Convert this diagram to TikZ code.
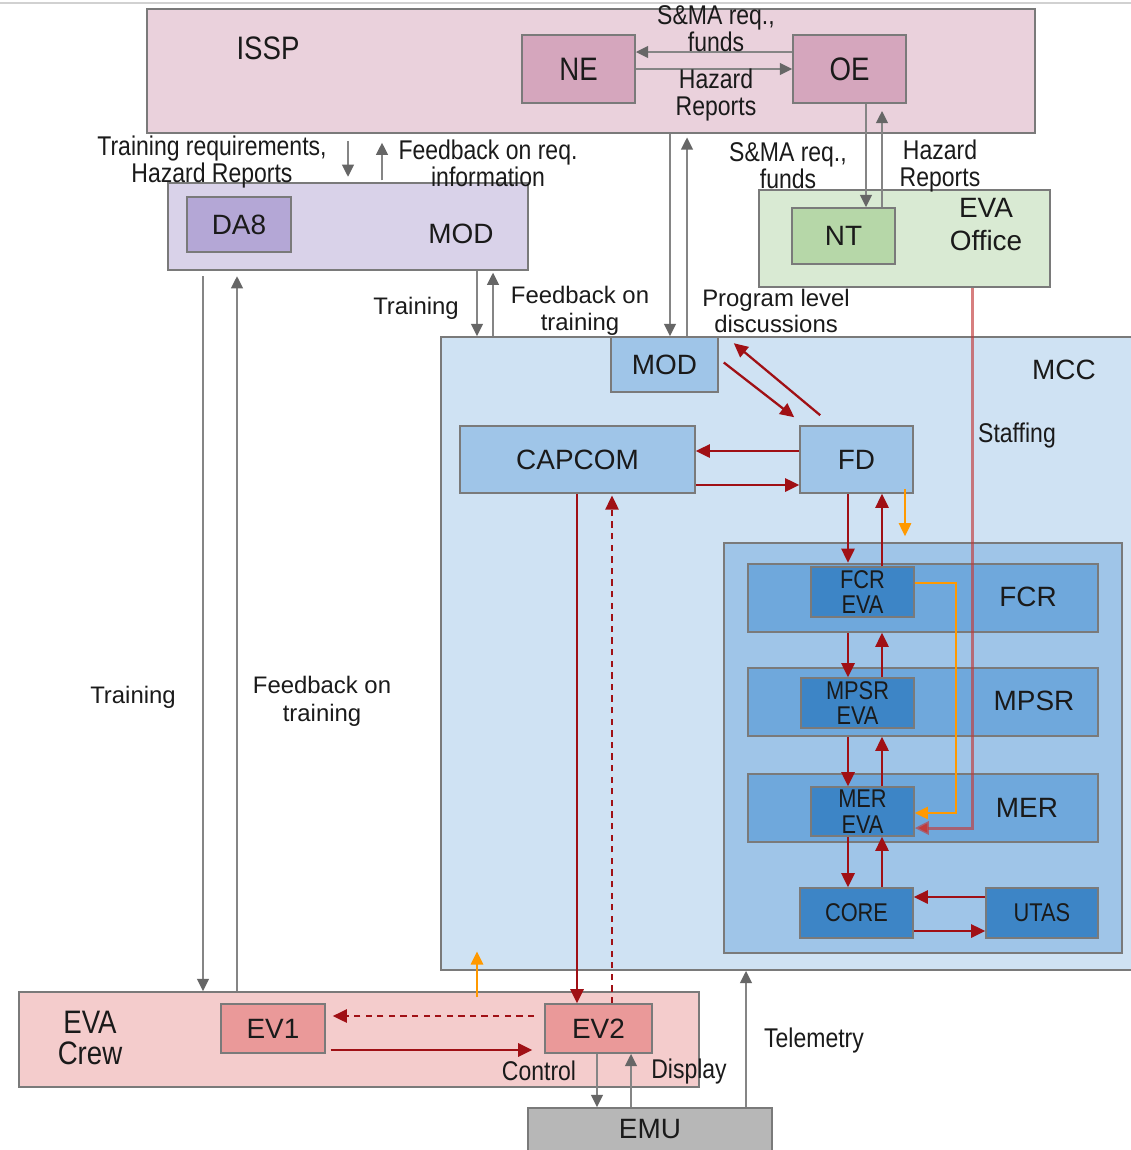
\documentclass[tikz,border=0pt]{standalone}
\usepackage{fontspec}
\setmainfont{Liberation Sans}
\newfontfamily\nfont[FakeStretch=0.85]{Liberation Sans}
\usetikzlibrary{fit,calc,arrows.meta}
\definecolor{issp}{HTML}{EAD1DC}
\definecolor{isspin}{HTML}{D5A6BD}
\definecolor{modp}{HTML}{D9D2E9}
\definecolor{modpin}{HTML}{B4A7D6}
\definecolor{evaoff}{HTML}{D9EAD3}
\definecolor{evaoffin}{HTML}{B6D7A8}
\definecolor{mcc}{HTML}{CFE2F3}
\definecolor{mccin}{HTML}{9FC5E8}
\definecolor{rowc}{HTML}{6FA8DC}
\definecolor{evac}{HTML}{3D85C6}
\definecolor{crew}{HTML}{F4CCCC}
\definecolor{crewin}{HTML}{EA9999}
\definecolor{emu}{HTML}{B7B7B7}
\definecolor{bord}{HTML}{7A7A7A}
\definecolor{agray}{HTML}{858585}
\definecolor{agtip}{HTML}{666666}
\definecolor{ared}{HTML}{A01015}
\definecolor{astaff}{HTML}{C23B3B}
\definecolor{aorange}{HTML}{FF9900}
\definecolor{txt}{HTML}{1A1A1A}
\tikzset{
  box/.style={draw=bord, line width=0.9pt, inner sep=0pt},
  bigN/.style={font=\fontsize{15.9}{18.8}\selectfont},
  bigR/.style={font=\nfont\fontsize{18.5}{18}\selectfont},
  smN/.style={font=\fontsize{13.6}{15.3}\selectfont, text=txt, align=center, inner sep=0pt},
  smR/.style={font=\nfont\fontsize{15.4}{15.5}\selectfont, text=txt, align=center, inner sep=0pt},
  inR/.style={font=\nfont\fontsize{14.6}{14.6}\selectfont},
  lbl/.style={text=txt, align=center, inner sep=0pt},
  garr/.style={draw=agray, line width=1.5pt, -{Triangle[length=7pt,width=6.5pt,color=agtip]}},
  rarr/.style={draw=ared, line width=1.3pt, -{Triangle[length=8pt,width=7.5pt]}},
  oarr/.style={draw=aorange, line width=1.2pt, -{Triangle[length=7.5pt,width=7pt]}},
  sarr/.style={draw=astaff, draw opacity=0.65, line width=1.7pt, -{Triangle[length=8pt,width=7.5pt,fill=astaff]}},
  dsh/.style={dash pattern=on 3.6pt off 3pt},
}
\begin{document}
\begin{tikzpicture}[x=0.02cm,y=-0.02cm]
\useasboundingbox (0,0) rectangle (1131,1150);
\fill[white] (0,0) rectangle (1131,1150);
\draw[black!18, line width=1.4pt] (0,3) -- (1131,3);

% containers
\node[box, fill=issp, fit={(147,9) (1035,133)}] (ISSP) {};
\node[box, fill=modp, fit={(168,183) (528,270)}] (MODp) {};
\node[box, fill=evaoff, fit={(759,190) (1050,287)}] (EVAoff) {};
\node[box, fill=mcc, fit={(441,337) (1145,970)}] (MCC) {};
\node[box, fill=mccin, fit={(724,543) (1122,953)}] (inner) {};
\node[box, fill=rowc, fit={(748,564) (1098,632)}] (FCRrow) {};
\node[box, fill=rowc, fit={(748,668) (1098,736)}] (MPSRrow) {};
\node[box, fill=rowc, fit={(748,774) (1098,842)}] (MERrow) {};
\node[box, fill=crew, fit={(19,992) (699,1087)}] (Crew) {};

% inner boxes
\node[box, fill=isspin, fit={(522,35) (635,103)}] (NE) {};
\node[box, fill=isspin, fit={(793,35) (906,103)}] (OE) {};
\node[box, fill=modpin, fit={(187,197) (291,252)}] (DA8) {};
\node[box, fill=evaoffin, fit={(792,208) (895,264)}] (NT) {};
\node[box, fill=mccin, fit={(611,337) (718,392)}] (MODb) {};
\node[box, fill=mccin, fit={(460,426) (695,493)}] (CAPCOM) {};
\node[box, fill=mccin, fit={(800,426) (913,493)}] (FD) {};
\node[box, fill=evac, fit={(811,567) (914,617)}] (FCRE) {};
\node[box, fill=evac, fit={(801,678) (914,728)}] (MPSRE) {};
\node[box, fill=evac, fit={(811,787) (914,836)}] (MERE) {};
\node[box, fill=evac, fit={(800,888) (913,938)}] (CORE) {};
\node[box, fill=evac, fit={(986,888) (1098,938)}] (UTAS) {};
\node[box, fill=crewin, fit={(221,1004) (325,1053)}] (EV1) {};
\node[box, fill=crewin, fit={(545,1004) (652,1053)}] (EV2) {};
\node[box, fill=emu, fit={(528,1108) (772,1156)}] (EMU) {};

% box texts
\node[lbl, bigR] (NE-t) at (NE.center) {NE};
\node[lbl, bigR] (OE-t) at (OE.center) {OE};
\node[lbl, bigN] (DA8-t) at (DA8.center) {DA8};
\node[lbl, bigN] (NT-t) at (NT.center) {NT};
\node[lbl, bigN] (MODb-t) at (MODb.center) {MOD};
\node[lbl, bigN] (CAPCOM-t) at (CAPCOM.center) {CAPCOM};
\node[lbl, bigN] (FD-t) at (FD.center) {FD};
\node[lbl, inR] (FCRE-t) at (FCRE.center) {FCR\\EVA};
\node[lbl, inR] (MPSRE-t) at (MPSRE.center) {MPSR\\EVA};
\node[lbl, inR] (MERE-t) at (MERE.center) {MER\\EVA};
\node[lbl, inR] (CORE-t) at (CORE.center) {CORE};
\node[lbl, inR] (UTAS-t) at (UTAS.center) {UTAS};
\node[lbl, bigN] (EV1-t) at (EV1.center) {EV1};
\node[lbl, bigN] (EV2-t) at (EV2.center) {EV2};
\node[lbl, bigN] (EMU-t) at (650,1129) {EMU};

% container titles
\node[lbl, bigR] (tISSP) at (268,48) {ISSP};
\node[lbl, bigN] (tMODp) at (461,234) {MOD};
\node[lbl, bigN] (tEVAoff) at (986,225) {EVA\\Office};
\node[lbl, bigN] (tMCC) at (1064,370) {MCC};
\node[lbl, bigN] (tFCR) at (1028,597) {FCR};
\node[lbl, bigN] (tMPSR) at (1034,701) {MPSR};
\node[lbl, bigN] (tMER) at (1027,808) {MER};
\node[lbl, bigR] (tCrew) at (90,1038) {EVA\\Crew};

% gray arrows
\draw[garr] (OE.west |- 0,52) -- (NE.east |- 0,52);
\draw[garr] (NE.east |- 0,69) -- (OE.west |- 0,69);
\draw[garr, shorten <=4pt, shorten >=3pt] (348,0 |- ISSP.south) -- (348,0 |- MODp.north);
\draw[garr, shorten <=1pt, shorten >=5pt] (382,0 |- MODp.north) -- (382,0 |- ISSP.south);
\draw[garr] (670,0 |- ISSP.south) -- (670,0 |- MODb.north);
\draw[garr, shorten >=2pt] (687,0 |- MODb.north) -- (687,0 |- ISSP.south);
\draw[garr] (866,0 |- OE.south) -- (866,0 |- NT.north);
\draw[garr, shorten >=4pt] (882,0 |- NT.north) -- (882,0 |- OE.south);
\draw[garr] (477,0 |- MODp.south) -- (477,0 |- MCC.north);
\draw[garr, shorten >=1pt] (493,0 |- MCC.north) -- (493,0 |- MODp.south);
\draw[garr, shorten <=3pt] (203,0 |- MODp.south) -- (203,0 |- Crew.north);
\draw[garr, shorten >=3pt] (237,0 |- Crew.north) -- (237,0 |- MODp.south);
\draw[garr] (597,0 |- EV2.south) -- (597,0 |- EMU.north);
\draw[garr] (631,0 |- EMU.north) -- (631,0 |- EV2.south);
\draw[garr] (746,0 |- EMU.north) -- (746,0 |- MCC.south);

% red arrows
\draw[rarr] ($(MODb.east)+(5,-2)$) -- ($(FD.north west)+(-5,-8)$);
\draw[rarr] ($(FD.north west)+(21,-10)$) -- ($(MODb.north east)+(15,7)$);
\draw[rarr] (FD.west |- 0,451) -- (CAPCOM.east |- 0,451);
\draw[rarr] (CAPCOM.east |- 0,485) -- (FD.west |- 0,485);
\draw[rarr, shorten >=2pt] (848,0 |- FD.south) -- (848,0 |- FCRE.north);
\draw[rarr] (882,0 |- FCRE.north) -- (882,0 |- FD.south);
\draw[rarr] (848,0 |- FCRrow.south) -- (848,0 |- MPSRE.north);
\draw[rarr] (882,0 |- MPSRE.north) -- (882,0 |- FCRrow.south);
\draw[rarr] (848,0 |- MPSRrow.south) -- (848,0 |- MERE.north);
\draw[rarr] (882,0 |- MERE.north) -- (882,0 |- MPSRrow.south);
\draw[rarr] (848,0 |- MERE.south) -- (848,0 |- CORE.north);
\draw[rarr] (882,0 |- CORE.north) -- (882,0 |- MERE.south);
\draw[rarr] (UTAS.west |- 0,897) -- (CORE.east |- 0,897);
\draw[rarr] (CORE.east |- 0,931) -- (UTAS.west |- 0,931);
\draw[rarr] (577,0 |- CAPCOM.south) -- (577,0 |- EV2.north);
\draw[rarr, dsh, shorten >=1pt] (612,0 |- EV2.north) -- (612,0 |- CAPCOM.south);
\draw[rarr, dsh, shorten <=5.7pt, shorten >=4pt] (EV2.west |- 0,1016) -- (EV1.east |- 0,1016);
\draw[rarr, shorten <=2.8pt, shorten >=6.8pt] (EV1.east |- 0,1050) -- (EV2.west |- 0,1050);

% staffing
\draw[sarr] (972,0 |- EVAoff.south) |- (MERE.east |- 0,828);

% orange arrows
\draw[oarr, shorten <=-2.8pt, shorten >=3.4pt] (905,0 |- FD.south) -- (905,0 |- inner.north);
\draw[oarr] (FCRE.east |- 0,583) -- (956,583) |- (MERE.east |- 0,813);
\draw[oarr, shorten <=-3.4pt, shorten >=-11pt] (477,0 |- Crew.north) -- (477,0 |- MCC.south);

% connector labels
\node[smR] (l1) at (716,29) {S\&MA req.,\\funds};
\node[smR] (l2) at (716,95) {Hazard\\Reports};
\node[smR] (l3) at (212,162) {Training requirements,\\Hazard Reports};
\node[smR] (l4) at (488,163) {Feedback on req.\\information};
\node[smR] (l5) at (788,166) {S\&MA req.,\\funds};
\node[smR] (l6) at (940,166) {Hazard\\Reports};
\node[smN] (l7) at (416,308) {Training};
\node[smN] (l8) at (580,311) {Feedback on\\training};
\node[smN] (l9) at (776,311) {Program level\\discussions};
\node[smR] (l10) at (1017,435) {Staffing};
\node[smN] (l11) at (133,697) {Training};
\node[smN, font=\fontsize{13.6}{16}\selectfont] (l12) at (322,701) {Feedback on\\training};
\node[smR] (l13) at (539,1071) {Control};
\node[smR] (l14) at (689,1071) {Display};
\node[smR] (l15) at (814,1040) {Telemetry};
\end{tikzpicture}
\end{document}
